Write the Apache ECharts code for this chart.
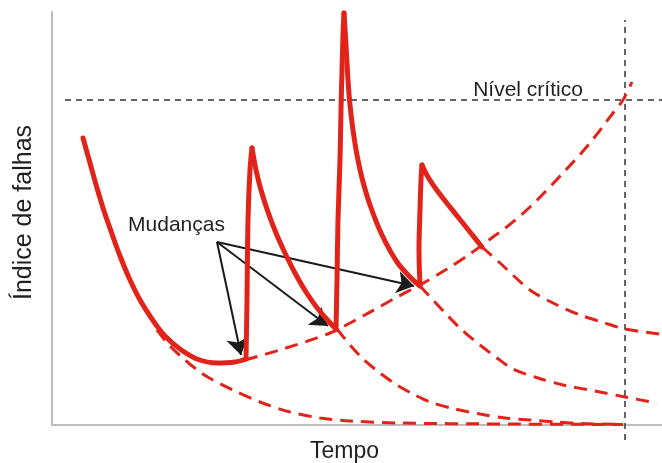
<!DOCTYPE html>
<html>
<head>
<meta charset="utf-8">
<script src="https://cdn.jsdelivr.net/npm/echarts@6/dist/echarts.min.js"></script>
<style>html,body{margin:0;padding:0;background:#fff;}#c{width:662px;height:463px;}</style>
</head>
<body>
<div id="c"></div>
<script>
// Units: time on x (0..610), failure index on y (0..413)
var X_MAX = 610, Y_MAX = 413;
var CRITICAL_LEVEL = 325;
var END_TIME = 573;

// Solid curve, piece by piece: failure index with successive changes
var earlyDecay = [[31,287],[38,262],[45,237],[52,214],[60,191],[68,169],[78,145],[88,125],[100,106],[113,89],[128,76],[145,66],[165,62],[183,63],[194,66]];
var rise1 = [[194,66],[195,125],[196,205],[198,255],[200,277]];
var fall1 = [[200,277],[204,255],[209,235],[216,213],[224,192],[233,172],[243,152],[254,133],[266,116],[281,99],[284,96]];
var rise2 = [[284,96],[285,145],[286,205],[288,265],[289,315],[290,355],[291,390],[292,412]];
var fall2 = [[292,412],[294,380],[296,345],[298,320],[301,295],[305,270],[310,247],[318,220],[330,190],[345,163],[358,148],[368,139]];
var rise3 = [[368,139],[367,175],[368,215],[369,245],[370,260]];
var fall3 = [[370,260],[376,248],[384,236],[394,223],[406,208],[418,193],[430,178]];

// Dashed: wear-out trend
var wearOut = [
  [193,65],[231,76],[278,92],[311,109],[345,128],[368,140],[395,156],[418,171],[441,188],[451,195],
  [478,218],[511,252],[538,282],[561,312],[571,325],[580,343]
];
// Dashed continuations of each decaying segment
var decay0 = [[105,95],[118,79],[133,65],[148,53],[161,45],[181,35],[208,23],[238,13],[268,7],[298,4],[348,2],[448,1],[571,0.5]];
var decay1 = [[285,96],[298,80],[311,66],[328,52],[345,40],[361,31],[378,23],[403,16],[428,11],[453,7],[478,5],[503,3],[528,1.5],[571,0.5]];
var decay2 = [[368,139],[381,125],[395,110],[411,94],[428,80],[445,67],[461,56],[486,47],[511,40],[543,34],[573,28],[605,22]];
var decay3 = [[430,178],[448,162],[478,135],[503,121],[528,110],[553,102],[573,96],[608,91]];

// Annotations
var changesOrigin = [165,183];
var changesTargets = [[189,70],[276,99],[362,139]];
var criticalLabel = {name: 'Nível crítico', value: [476,335]};
var changesLabel = {name: 'Mudanças', value: [124.5,200]};

var RED = '#e2231a';
var TEXT = '#231f20';
var FONT = '"Liberation Sans", Arial, sans-serif';

function dashed(data) {
  return {
    type: 'line', data: data, symbol: 'none', smooth: 0.3, silent: true, z: 2,
    lineStyle: {color: RED, width: 3, type: [13, 8], cap: 'butt'}
  };
}
function solid(data) {
  return {
    type: 'line', data: data, symbol: 'none', smooth: 0.35, silent: true, z: 5,
    lineStyle: {color: RED, width: 5, cap: 'round', join: 'round'}
  };
}

var chart = echarts.init(document.getElementById('c'), null, {renderer: 'canvas'});
chart.setOption({
  animation: false,
  grid: {left: 52, right: 0, top: 12, bottom: 38, containLabel: false, outerBoundsMode: 'none'},
  xAxis: {
    type: 'value', min: 0, max: X_MAX,
    axisLine: {show: true, onZero: false, lineStyle: {color: '#bdbdbd', width: 2}},
    axisTick: {show: false}, axisLabel: {show: false}, splitLine: {show: false},
    name: 'Tempo', nameLocation: 'middle', nameGap: 15,
    nameTextStyle: {fontSize: 23, color: TEXT, fontFamily: FONT, padding: [0, 25, 0, 0]}
  },
  yAxis: {
    type: 'value', min: 0, max: Y_MAX,
    axisLine: {show: true, onZero: false, lineStyle: {color: '#bdbdbd', width: 2}},
    axisTick: {show: false}, axisLabel: {show: false}, splitLine: {show: false},
    name: 'Índice de falhas', nameLocation: 'middle', nameGap: 15,
    nameTextStyle: {fontSize: 25, color: TEXT, fontFamily: FONT, padding: [0, 0, 0, 12]}
  },
  series: [
    {
      type: 'line', data: [[13, CRITICAL_LEVEL], [X_MAX, CRITICAL_LEVEL]], symbol: 'none', silent: true, z: 1,
      lineStyle: {color: '#333333', width: 1.5, type: [6, 5]}
    },
    {
      type: 'line', data: [[END_TIME, -15], [END_TIME, 405]], symbol: 'none', silent: true, clip: false, z: 1,
      lineStyle: {color: '#333333', width: 1.5, type: [6, 5]}
    },
    dashed(decay0), dashed(decay1), dashed(decay2), dashed(decay3), dashed(wearOut),
    {
      type: 'lines', coordinateSystem: 'cartesian2d', silent: true, z: 4,
      symbol: ['none', 'arrow'], symbolSize: [0, 17],
      lineStyle: {color: '#1a1a1a', width: 2, opacity: 1, curveness: 0},
      data: changesTargets.map(function (t) { return {coords: [changesOrigin, t]}; })
    },
    solid(earlyDecay), solid(rise1), solid(fall1), solid(rise2), solid(fall2), solid(rise3), solid(fall3),
    {
      type: 'scatter', data: [criticalLabel, changesLabel], symbolSize: 0, silent: true, z: 6,
      itemStyle: {opacity: 1},
      label: {show: true, position: 'inside', formatter: '{b}', fontSize: 21, color: TEXT, opacity: 1,
        textBorderWidth: 0, fontFamily: FONT}
    }
  ]
});
</script>
</body>
</html>
